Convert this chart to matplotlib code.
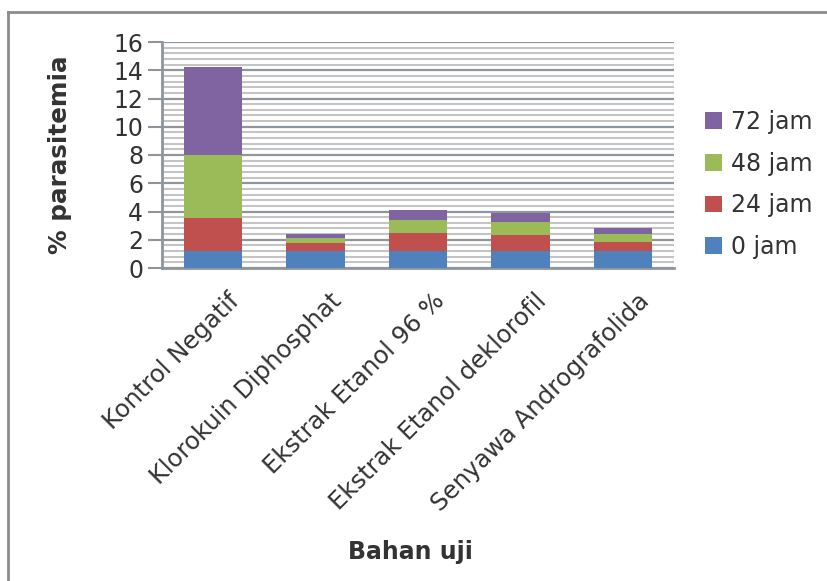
import matplotlib
matplotlib.use("Agg")
import matplotlib.pyplot as plt
import matplotlib.transforms as mtransforms
from matplotlib.ticker import MultipleLocator
import numpy as np

categories = ['Kontrol Negatif', 'Klorokuin Diphosphat', 'Ekstrak Etanol 96 %',
              'Ekstrak Etanol deklorofil', 'Senyawa Andrografolida']
series_names = ['0 jam', '24 jam', '48 jam', '72 jam']
jam0 = [1.2, 1.2, 1.23, 1.2, 1.2]
jam24 = [2.34, 0.6, 1.22, 1.14, 0.62]
jam48 = [4.46, 0.32, 0.95, 0.92, 0.58]
jam72 = [6.23, 0.31, 0.7, 0.66, 0.4]
colors = ['#4F81BD', '#C0504D', '#9BBB59', '#8064A2']

fig = plt.figure(figsize=(8.27, 5.81), dpi=100)
ax = fig.add_axes([162/827, 1 - 268/581, 512/827, 226/581])

x = np.arange(len(categories))
bottom = np.zeros(len(categories))
bars = []
for vals, name, c in zip([jam0, jam24, jam48, jam72], series_names, colors):
    b = ax.bar(x, vals, 0.57, bottom=bottom, color=c, label=name, zorder=3)
    bars.append(b)
    bottom += np.array(vals)

ax.set_xlim(-0.5, len(categories) - 0.5)
ax.set_ylim(0, 16)
ax.yaxis.set_major_locator(MultipleLocator(2))
ax.yaxis.set_minor_locator(MultipleLocator(0.4))
ax.grid(which='major', axis='y', color='#8E969C', lw=1.6, zorder=1)
ax.grid(which='minor', axis='y', color='#C4C4C4', lw=1.5, zorder=1)
ax.tick_params(axis='y', which='major', length=10, width=1.5, color='#8E969C',
               labelsize=17, labelcolor='#333333', pad=3.5)
ax.tick_params(axis='y', which='minor', length=0)
ax.tick_params(axis='x', length=0, labelsize=17.5, labelcolor='#333333', pad=15)

for s in ['top', 'right']:
    ax.spines[s].set_visible(False)
for s in ['left', 'bottom']:
    ax.spines[s].set_color('#8E969C')
    ax.spines[s].set_linewidth(2)

ax.set_xticks(x)
ax.set_xticklabels(categories, rotation=45, ha='right', rotation_mode='anchor')
offset = mtransforms.ScaledTranslation(0.14, 0, fig.dpi_scale_trans)
for lab in ax.get_xticklabels():
    lab.set_transform(lab.get_transform() + offset)

fig.text(60/827, 1 - 155/581, '% parasitemia', fontsize=17.7, fontweight='bold',
         color='#333333', ha='center', va='center', rotation=90)
fig.text(410/827, 1 - 552/581, 'Bahan uji', fontsize=17,
         fontweight='bold', color='#333333', ha='center', va='center')

handles = [b[0] for b in bars][::-1]
ax.legend(handles, series_names[::-1], loc='center left', bbox_to_anchor=(1.02, 0.37),
          frameon=False, fontsize=17, handlelength=0.7, handleheight=0.7,
          handletextpad=0.4, labelspacing=0.75, labelcolor='#333333')

# outer chart frame
fig.add_artist(plt.Line2D([8/827, 8/827], [0, 1 - 12/581], transform=fig.transFigure,
                          color='#8C8C8C', lw=2))
fig.add_artist(plt.Line2D([8/827, 1], [1 - 12/581, 1 - 12/581], transform=fig.transFigure,
                          color='#8C8C8C', lw=2))

fig.savefig('out.png', dpi=100)
